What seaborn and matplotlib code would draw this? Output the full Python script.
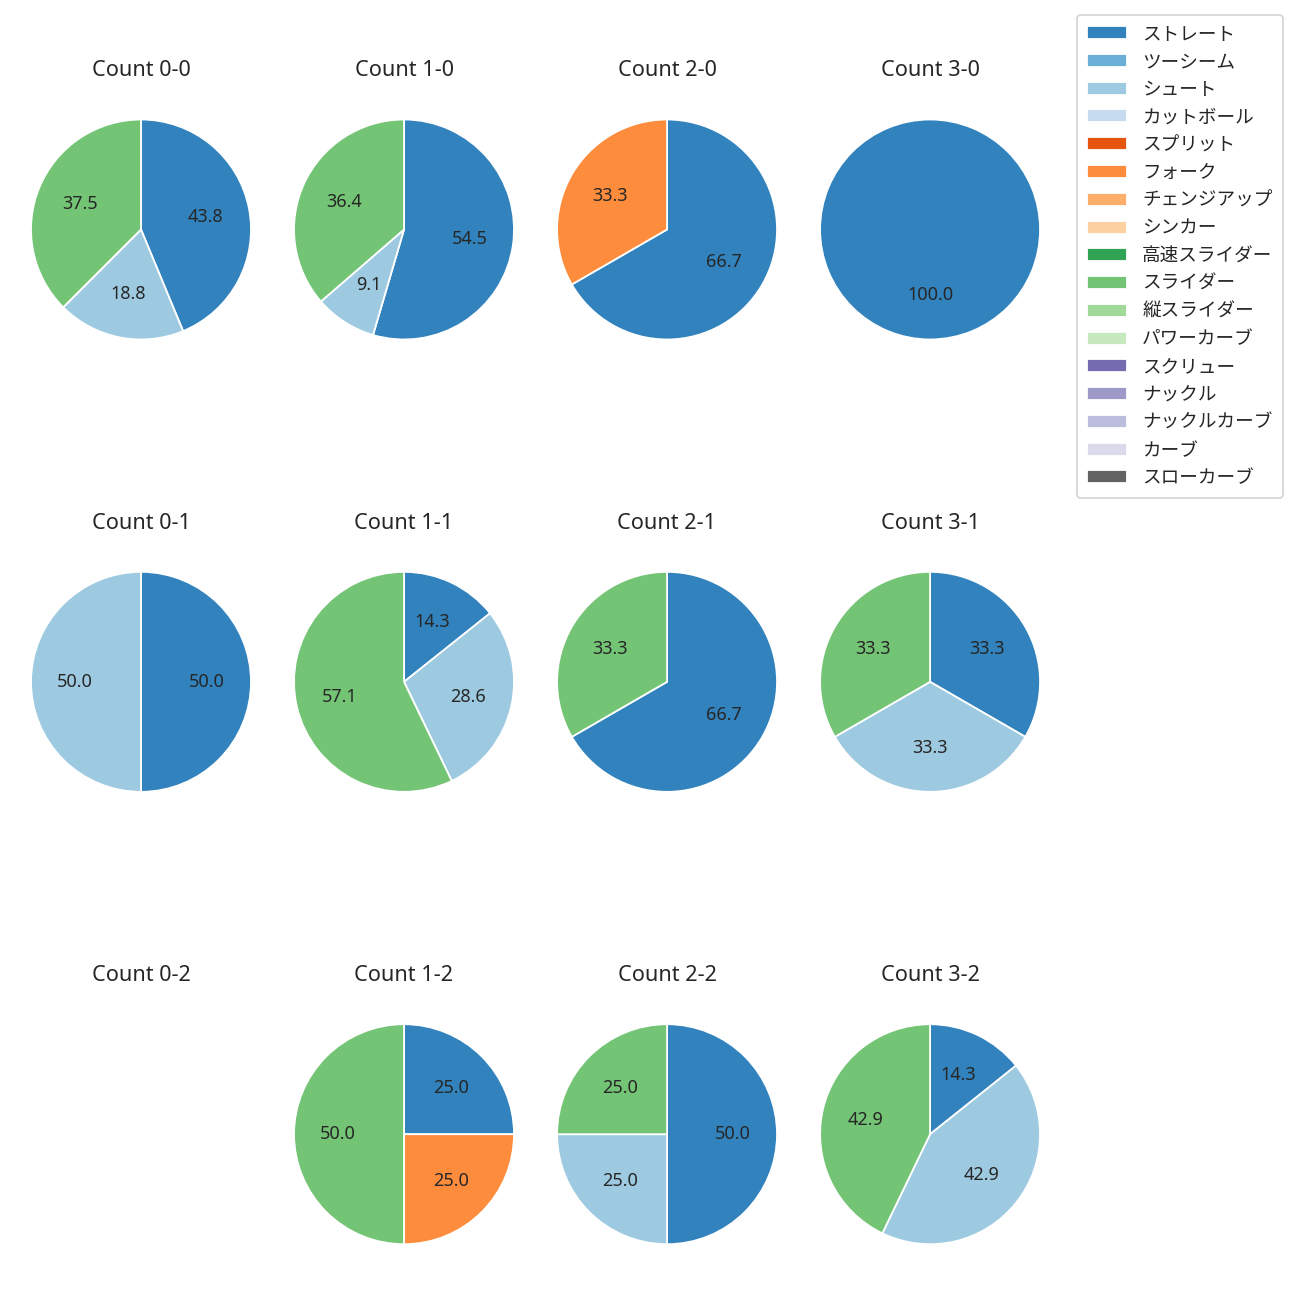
import numpy as np
import pandas as pd
import seaborn as sns
import matplotlib.pyplot as plt
from matplotlib.patches import Patch

sns.set_theme(style="white")
plt.rcParams['font.family'] = ['Noto Sans', 'Noto Sans CJK JP', 'DejaVu Sans']
plt.rcParams['font.size'] = 10
plt.rcParams['axes.titlesize'] = 12

pitch_types = ["ストレート", "ツーシーム", "シュート", "カットボール", "スプリット", "フォーク",
               "チェンジアップ", "シンカー", "高速スライダー", "スライダー", "縦スライダー",
               "パワーカーブ", "スクリュー", "ナックル", "ナックルカーブ", "カーブ", "スローカーブ"]
colors = sns.color_palette("tab20c", 17)

balls = [0, 1, 2, 3]
strikes = [0, 1, 2]

# pitch counts per ball-strike count
straight = {(0, 0): 7, (1, 0): 6, (2, 0): 2, (3, 0): 1,
            (0, 1): 1, (1, 1): 1, (2, 1): 2, (3, 1): 1,
            (0, 2): 0, (1, 2): 1, (2, 2): 2, (3, 2): 1}
shoot = {(0, 0): 3, (1, 0): 1, (2, 0): 0, (3, 0): 0,
         (0, 1): 1, (1, 1): 2, (2, 1): 0, (3, 1): 1,
         (0, 2): 0, (1, 2): 0, (2, 2): 1, (3, 2): 3}
fork = {(0, 0): 0, (1, 0): 0, (2, 0): 1, (3, 0): 0,
        (0, 1): 0, (1, 1): 0, (2, 1): 0, (3, 1): 0,
        (0, 2): 0, (1, 2): 1, (2, 2): 0, (3, 2): 0}
slider = {(0, 0): 6, (1, 0): 4, (2, 0): 0, (3, 0): 0,
          (0, 1): 0, (1, 1): 4, (2, 1): 1, (3, 1): 1,
          (0, 2): 0, (1, 2): 2, (2, 2): 1, (3, 2): 3}

fig, axes = plt.subplots(3, 4, figsize=(10, 10))
fig.subplots_adjust(left=0.0154, right=0.8085, top=0.935, bottom=0.016, wspace=0.087, hspace=0.56)

for s in strikes:
    for b in balls:
        ax = axes[s, b]
        key = (b, s)
        df = pd.DataFrame({
            "type": ["ストレート", "シュート", "フォーク", "スライダー"],
            "n": [straight[key], shoot[key], fork[key], slider[key]],
        })
        df = df[df["n"] > 0]
        ax.set_title(f"Count {b}-{s}", pad=4.5)
        if len(df) == 0:
            ax.axis("off")
            continue
        cols = [colors[pitch_types.index(t)] for t in df["type"]]
        ax.pie(df["n"], colors=cols, startangle=90, counterclock=False,
               autopct="%.1f", pctdistance=0.6)
        ax.axis("equal")

handles = [Patch(facecolor=c, label=t) for t, c in zip(pitch_types, colors)]
fig.legend(handles=handles, loc="upper left", bbox_to_anchor=(0.8285, 0.9885),
           borderaxespad=0, fontsize=10.3, handlelength=2.15, labelspacing=0.525,
           borderpad=0.55)

fig.savefig("out.png", dpi=130)
